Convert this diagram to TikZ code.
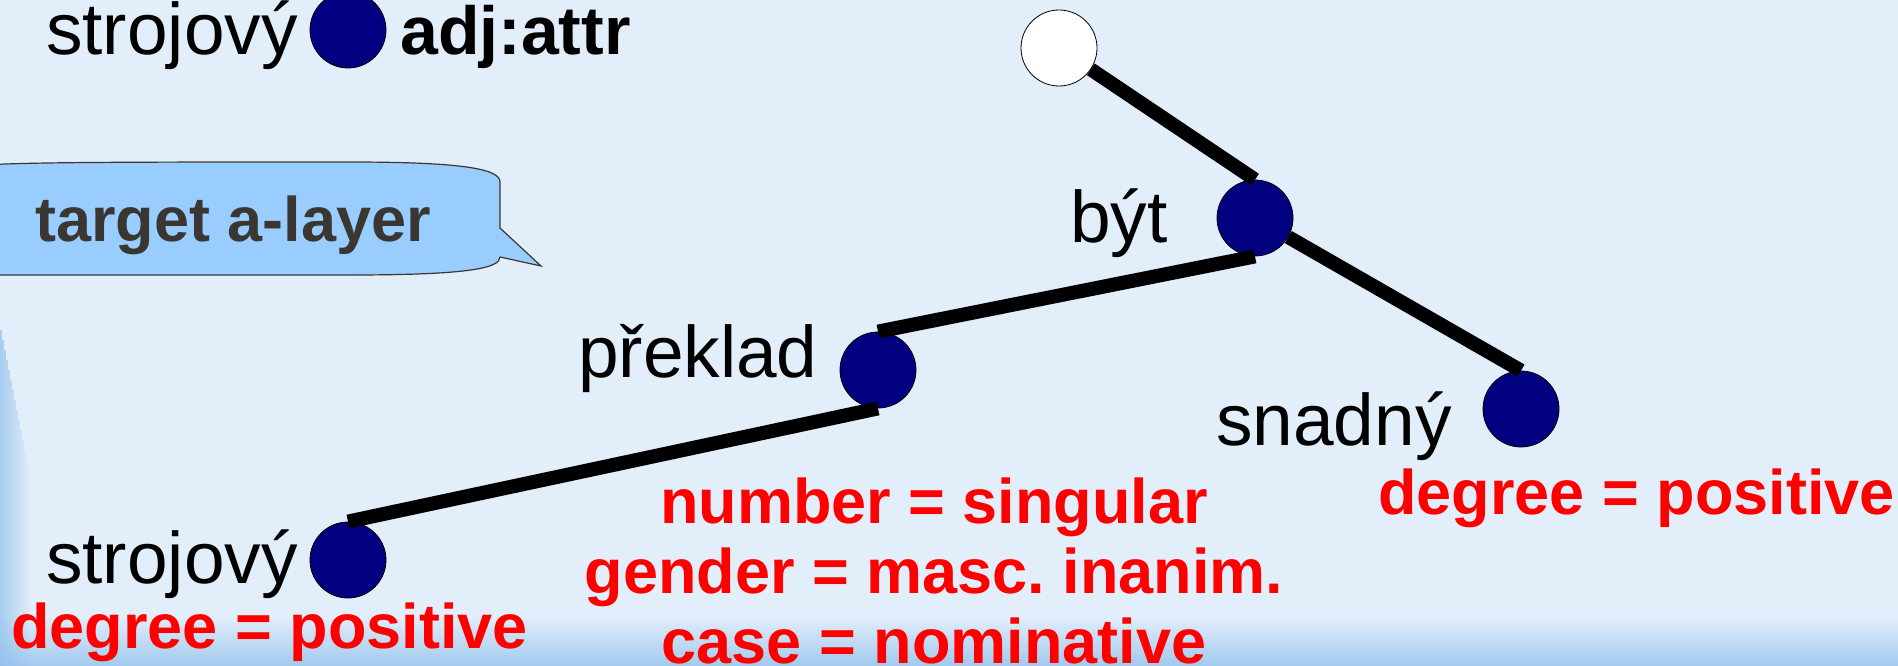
\documentclass[tikz,border=0pt]{standalone}
\usepackage{fontspec}
\setmainfont{Liberation Sans}
\usepackage{xcolor}
\usetikzlibrary{positioning}

\definecolor{slidebg}{HTML}{E2EEFA}
\definecolor{slideedge}{HTML}{8FBFEC}
\definecolor{dotblue}{HTML}{000080}
\definecolor{bubblefill}{HTML}{99CCFF}
\definecolor{bubbletext}{HTML}{3A3733}

\begin{document}
\begin{tikzpicture}[
  x=1pt, y=-1pt,
  dot/.style={circle, draw=black, line width=0.8pt, fill=dotblue,
    inner sep=0pt, minimum size=76pt},
  topdot/.style={dot, fill=white},
  word/.style={inner sep=0pt, anchor=base west,
    font=\fontsize{73}{80}\selectfont},
  func/.style={inner sep=0pt, anchor=base west,
    font=\fontsize{68}{76}\selectfont\bfseries},
  feat/.style={inner sep=0pt, text=red,
    font=\fontsize{63}{70}\selectfont\bfseries},
  bubble/.style={draw=bubbletext, fill=bubblefill, line width=1.2pt},
  edge/.style={draw=black, line width=14pt, line cap=butt}
]
\useasboundingbox (0,0) rectangle (1898,666);
\clip (0,0) rectangle (1898,666);
\fill[slidebg] (0,0) rectangle (1898,666);
\foreach \i in {0,...,24}
  \fill[slideedge, opacity=\i/32] (0,{616+2*\i}) rectangle (1898,{618+2*\i});
\foreach \i in {0,...,14}
  \fill[slideedge, opacity={0.7*(1-\i/15)}] ({2*\i},{330+10*\i}) rectangle ({2*\i+2},666);

\node[dot] (legend-dot) at (348,30) {};
\node[word] (legend-word) at (46,55) {strojový};
\node[func] (legend-afun) at (400,55) {adj:attr};

\draw[bubble] (-40,167) .. controls (0,162) and (100,162) .. (350,162)
  .. controls (470,162) and (500,170) .. (500,182) -- (500,228) -- (541,266)
  -- (500,257) .. controls (500,268) and (470,275) .. (350,275)
  -- (0,275) .. controls (-20,275) .. (-40,272) -- cycle;
\node[inner sep=0pt, anchor=base west, text=bubbletext,
  font=\fontsize{63}{70}\selectfont\bfseries] (layer-note) at (35,241) {target a-layer};

\node[topdot] (root) at (1059,48) {};
\node[dot] (byt) at (1255,218) {};
\node[dot] (preklad) at (878,370) {};
\node[dot] (snadny) at (1521,409) {};
\node[dot] (strojovy) at (348,560) {};

\node[word] (byt-word) at (1070,242) {být};
\node[word] (preklad-word) at (578,377) {překlad};
\node[word] (snadny-word) at (1216,445) {snadný};
\node[word] (strojovy-word) at (46,583) {strojový};

\node[feat, anchor=base east] (snadny-degree) at (1895,514) {degree = positive};
\node[feat, anchor=base west] (strojovy-degree) at (11,648) {degree = positive};
\node[feat, anchor=base] (preklad-number) at (934,523) {number = singular};
\node[feat, anchor=base] (preklad-gender) at (934,593) {gender = masc.\ inanim.};
\node[feat, anchor=base] (preklad-case) at (934,663) {case = nominative};

\draw[edge] (root) -- (byt.north);
\draw[edge] (byt.south) -- (preklad.north);
\draw[edge] (byt) -- (snadny.north);
\draw[edge] (preklad.south) -- (strojovy.north);
\end{tikzpicture}
\end{document}
